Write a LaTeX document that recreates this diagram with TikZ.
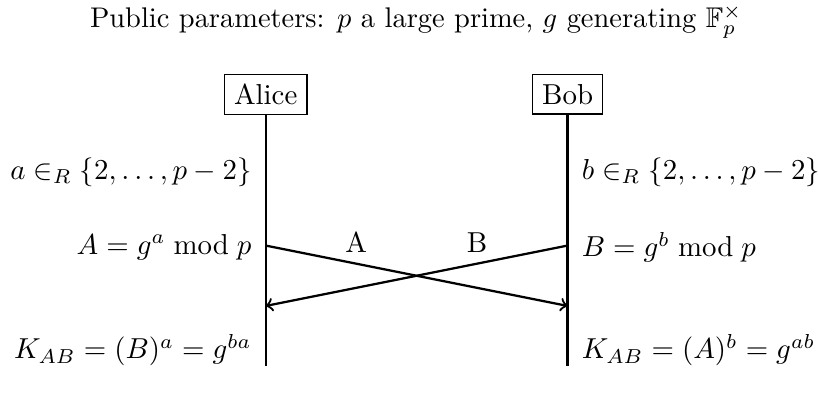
\documentclass[tikz,border=0pt]{standalone}
\usepackage{amsmath, amssymb}
\usetikzlibrary{positioning}

\begin{document}
\begin{tikzpicture}[
  >=to,
  every node/.style={inner sep=3.33pt, scale=1.02},
  party/.style  ={draw, fill=white},
  life/.style   ={thick},
  lefttxt/.style ={anchor=east},
  righttxt/.style={anchor=west},
  msg/.style    ={->, thick},
]
\useasboundingbox (0,0) rectangle (10.16,-4.92);

% ---- Header ----------------------------------------------------------------
\node[scale=0.985] (pub) at (5.17,-0.27) {Public parameters: $p$ a large prime, $g$ generating $\mathbb{F}_p^\times$};

% ---- Parties and lifelines -------------------------------------------------
\node[party] (alice) at (3.30,-1.17) {Alice};
\node[party] (bob)   at (7.05,-1.17) {Bob};
\coordinate (aliceend) at (3.30,-4.55);
\coordinate (bobend)   at (7.05,-4.55);
\draw[life] (alice.south) -- (aliceend);
\draw[life] (bob.south)   -- (bobend);

% ---- Secret choices ----------------------------------------------------------
\node[lefttxt]  (asec) at (3.25,-2.14) {$a \in_R \{2,\ldots,p-2\}$};
\node[righttxt] (bsec) at (7.10,-2.14) {$b \in_R \{2,\ldots,p-2\}$};

% ---- Public values -----------------------------------------------------------
\node[lefttxt]  (apub) at (3.25,-3.07) {$A = g^a \bmod p$};
\node[righttxt] (bpub) at (7.10,-3.07) {$B = g^b \bmod p$};

% ---- Exchange ------------------------------------------------------------------
\coordinate (asend) at (3.30,-3.05);
\coordinate (bsend) at (7.05,-3.05);
\coordinate (arecv) at (3.30,-3.80);
\coordinate (brecv) at (7.05,-3.80);
\draw[msg] (asend) -- node[pos=0.3, above] (lblA) {A} (brecv);
\draw[msg] (bsend) -- node[pos=0.3, above] (lblB) {B} (arecv);

% ---- Shared key ----------------------------------------------------------------
\node[lefttxt]  (akey) at (3.25,-4.35) {$K_{AB} = (B)^a = g^{ba}$};
\node[righttxt] (bkey) at (7.10,-4.35) {$K_{AB} = (A)^b = g^{ab}$};
\end{tikzpicture}
\end{document}
